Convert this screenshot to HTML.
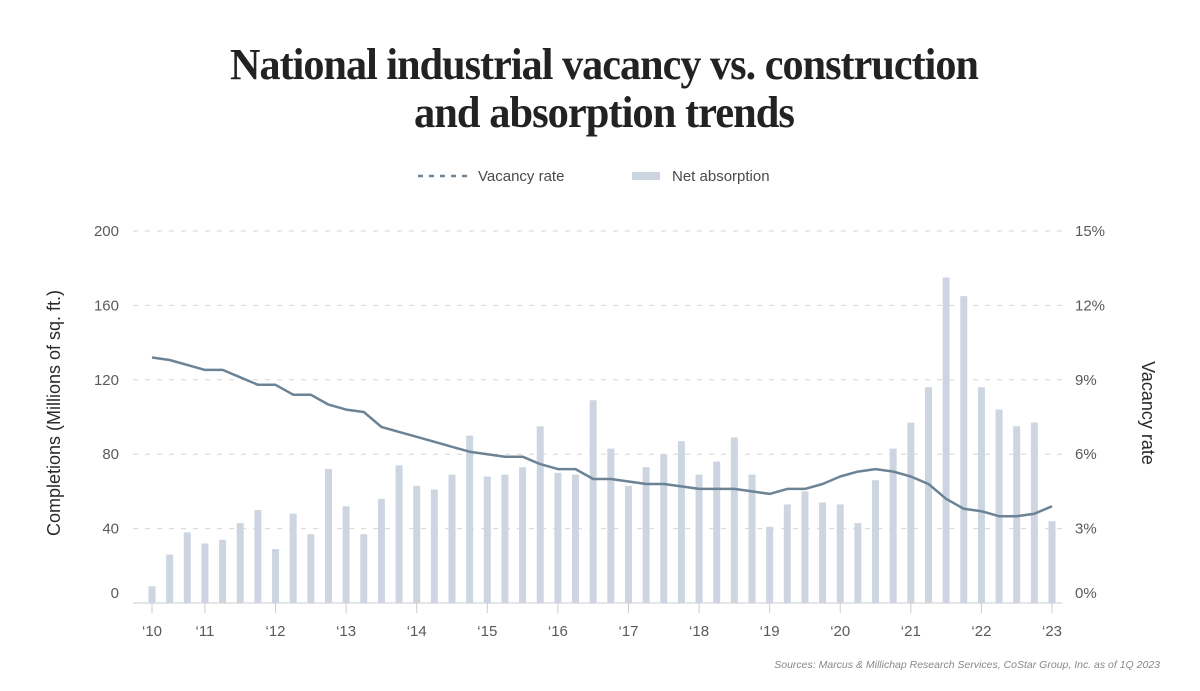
<!DOCTYPE html>
<html><head><meta charset="utf-8">
<style>
html,body{margin:0;padding:0;background:#fff;}
svg{display:block;font-family:"Liberation Sans",sans-serif;}
</style></head>
<body>
<svg id="chart" width="1200" height="691" viewBox="0 0 1200 691">
<g font-family="'Liberation Serif',serif" font-size="44" font-weight="bold" fill="#222" text-anchor="middle" letter-spacing="-1">
 <text x="604" y="79" textLength="748" lengthAdjust="spacingAndGlyphs">National industrial vacancy vs. construction</text>
 <text x="604" y="127" textLength="380" lengthAdjust="spacingAndGlyphs">and absorption trends</text>
</g>
<g font-size="15" fill="#4a4a4a">
 <g>
  <line x1="418" y1="176" x2="468" y2="176" stroke="#6f8494" stroke-width="2.5" stroke-dasharray="5,6"/>
  <text x="478" y="181">Vacancy rate</text>
 </g>
 <g>
  <rect x="632" y="172" width="28" height="8" fill="#cdd6e0"/>
  <text x="672" y="181">Net absorption</text>
 </g>
</g>
<g id="grid"></g>
<g id="bars"></g>
<g id="line"></g>
<g id="axes" font-size="15" fill="#5a5a5a"></g>
<text transform="translate(60,413) rotate(-90)" text-anchor="middle" font-size="18" fill="#2a2a2a">Completions (Millions of sq. ft.)</text>
<text transform="translate(1142,413) rotate(90)" text-anchor="middle" font-size="18" fill="#2a2a2a">Vacancy rate</text>
<text x="1160" y="668" text-anchor="end" font-size="10.5" font-style="italic" fill="#888">Sources: Marcus &amp; Millichap Research Services, CoStar Group, Inc. as of 1Q 2023</text>
</svg>
<script>
const absorption = [9,26,38,32,34,43,50,29,48,37,72,52,37,56,74,63,61,69,90,68,
 69,73,95,70,69,109,83,63,73,80,87,69,76,89,69,41,53,60,54,53,43,66,83,97,116,175,165,116,104,95,97,44];
const vacancy = [9.9,9.8,9.6,9.4,9.4,9.1,8.8,8.8,8.4,8.4,8.0,7.8,7.7,7.1,6.9,6.7,6.5,6.3,6.1,6.0,5.9,5.9,5.6,5.4,5.4,5.0,5.0,4.9,4.8,4.8,4.7,4.6,4.6,4.6,4.5,4.4,4.6,4.6,4.8,5.1,5.3,5.4,5.3,5.1,4.8,4.2,3.8,3.7,3.5,3.5,3.6,3.9];
const leftTicks = [0,40,80,120,160,200];
const rightTicks = ["0%","3%","6%","9%","12%","15%"];
const xTickLabels = ["‘10","‘11","‘12","‘13","‘14","‘15","‘16","‘17","‘18","‘19","‘20","‘21","‘22","‘23"];
const xTickIndex = [0,3,7,11,15,19,23,27,31,35,39,43,47,51];

const NS="http://www.w3.org/2000/svg";
const y0=603, y1=231, x0=152, x1=1052;
const yL=v=>y0-(v/200)*(y0-y1);
const yR=p=>y0-(p/15)*(y0-y1);
const xB=i=>x0+i*(x1-x0)/(absorption.length-1);
function mk(t,a,p){const e=document.createElementNS(NS,t);for(const k in a)e.setAttribute(k,a[k]);p.appendChild(e);return e;}
const grid=document.getElementById('grid'),bars=document.getElementById('bars'),line=document.getElementById('line'),axes=document.getElementById('axes');
leftTicks.forEach((v,i)=>{
 const y=yL(v);
 if(v>0){const g=mk('line',{x1:133,x2:1062,y1:y,y2:y,stroke:'#d6d6d6','stroke-dasharray':'5,7','stroke-width':1},grid);
 
 }
 const t=mk('text',{x:119,y:(v===0?y-10:y)+5,'text-anchor':'end'},axes);t.textContent=v;
 
 
 const r=mk('text',{x:1075,y:(v===0?y-10:y)+5},axes);r.textContent=rightTicks[i];
 
 
});
const base=mk('line',{x1:133,x2:1062,y1:y0,y2:y0,stroke:'#ccc','stroke-width':1},grid);


absorption.forEach((v,i)=>{
 const r=mk('rect',{x:xB(i)-3.5,y:yL(v),width:7,height:y0-yL(v),fill:'#cdd6e0'},bars);
 
 
});
xTickIndex.forEach((idx,k)=>{
 const x=xB(idx);
 const tk=mk('line',{x1:x,x2:x,y1:y0,y2:y0+10,stroke:'#ccc'},axes);
 
 
 const t=mk('text',{x:x,y:636,'text-anchor':'middle'},axes);t.textContent=xTickLabels[k];
 
 
});
const pts=vacancy.map((p,i)=>xB(i).toFixed(1)+','+yR(p).toFixed(1)).join(' ');
const pl=mk('polyline',{points:pts,fill:'none',stroke:'#6c8396','stroke-width':2.5,'stroke-linejoin':'round'},line);


</script>
</body></html>
